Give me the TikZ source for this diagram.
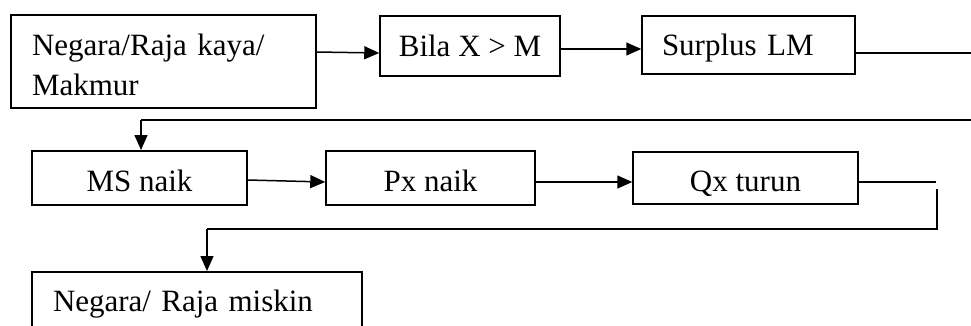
\documentclass[tikz,border=0pt]{standalone}
\usepackage{fontspec}
\setmainfont{Liberation Serif}
\usetikzlibrary{arrows.meta}
\begin{document}
\begin{tikzpicture}[x=1pt,y=-1pt,
  box/.style={draw, line width=1.5pt, inner ysep=0pt, anchor=north, font=\fontsize{31}{40}\selectfont},
  cbox/.style={box, inner xsep=0pt, align=center},
  lbox/.style={box, align=left},
  arr/.style={line width=1.5pt, -{Triangle[length=15pt,width=13pt]}},
  ln/.style={line width=1.5pt}]
\useasboundingbox (0,0) rectangle (971,325);
% boxes
\node[lbox, text width=263pt, inner xsep=21pt, text height=41pt, text depth=52pt] (b1) at (163.5,14) {Negara/Raja kaya/\\Makmur};
\node[cbox, minimum width=180pt, text height=41pt, text depth=19pt] (b2) at (470,15) {Bila X {>} M};
\node[lbox, text width=173pt, inner xsep=20pt, text height=40pt, text depth=18pt] (b3) at (748.5,15) {Surplus LM};
\node[cbox, minimum width=215pt, text height=41pt, text depth=13pt] (b4) at (139.5,150) {MS naik};
\node[cbox, minimum width=209pt, text height=41pt, text depth=13pt] (b5) at (430.5,150) {Px naik};
\node[cbox, minimum width=225pt, text height=40pt, text depth=12pt] (b6) at (745.5,151) {Qx turun};
\node[lbox, text width=288pt, inner xsep=21pt, text height=40pt, text depth=40pt] (b7) at (197,271) {Negara/ Raja miskin};
% helper coordinates
\coordinate (h52) at (0,52);
\coordinate (h53) at (0,53);
\coordinate (h49) at (0,49);
\coordinate (h180) at (0,180);
\coordinate (h182) at (0,182);
\coordinate (r1) at (976,53);
\coordinate (r2) at (976,120);
\coordinate (t1) at (141,120);
\coordinate (q1) at (936,182);
\coordinate (q2) at (937,189);
\coordinate (q3) at (937,229);
\coordinate (t2) at (207,229);
% connectors
\draw[arr] (b1.east |- h52) -- (b2.west |- h53);
\draw[arr] (b2.east |- h49) -- (b3.west |- h49);
\draw[ln] (b3.east |- h53) -- (r1) -- (r2) -- (t1);
\draw[arr] (t1) -- (t1 |- b4.north);
\draw[arr] (b4.east |- h180) -- (b5.west |- h182);
\draw[arr] (b5.east |- h182) -- (b6.west |- h182);
\draw[ln] (b6.east |- h182) -- (q1);
\draw[ln] (q2) -- (q3) -- (t2);
\draw[arr] (t2) -- (t2 |- b7.north);
\end{tikzpicture}
\end{document}
